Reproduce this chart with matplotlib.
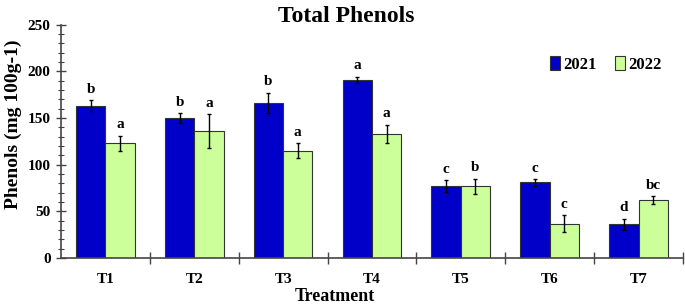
import matplotlib.pyplot as plt
import numpy as np
from matplotlib.ticker import MultipleLocator, FixedLocator

plt.rcParams['font.family'] = ['Liberation Serif', 'DejaVu Serif']
plt.rcParams['font.weight'] = 'bold'

treatments = ['T1', 'T2', 'T3', 'T4', 'T5', 'T6', 'T7']
y2021 = [163, 150, 166, 191, 77, 81, 36]
err2021 = [6, 5, 11, 3, 6.5, 3.5, 6]
y2022 = [123, 136, 115, 133, 77, 37, 62]
err2022 = [8, 18, 8, 10, 8, 9, 4]
let2021 = ['b', 'b', 'b', 'a', 'c', 'c', 'd']
let2022 = ['a', 'a', 'a', 'a', 'b', 'c', 'bc']

blue = '#0000c8'
green = '#ccff99'

fig = plt.figure(figsize=(6.85, 3.08), dpi=100)
ax = fig.add_axes([0.089, 0.162, 0.908, 0.758])

x = np.arange(len(treatments))
w = 0.33
ekw = dict(ecolor='black', elinewidth=1, capsize=1.5, capthick=1)
ax.bar(x - w/2, y2021, w, yerr=err2021, color=blue, edgecolor='#333333',
       linewidth=0.8, error_kw=ekw, label='2021')
ax.bar(x + w/2, y2022, w, yerr=err2022, color=green, edgecolor='#333333',
       linewidth=0.8, error_kw=ekw, label='2022')

for i in range(len(x)):
    ax.text(x[i] - w/2, y2021[i] + err2021[i] + 8, let2021[i], ha='center',
            va='baseline', fontsize=11, fontweight='bold')
    ax.text(x[i] + w/2, y2022[i] + err2022[i] + 8, let2022[i], ha='center',
            va='baseline', fontsize=11, fontweight='bold')

ax.set_xlim(-0.5, 6.5)
ax.set_ylim(0, 250)
ax.spines['top'].set_visible(False)
ax.spines['right'].set_visible(False)
for s in ['left', 'bottom']:
    ax.spines[s].set_color('#444444')
    ax.spines[s].set_linewidth(1.2)

ax.yaxis.set_major_locator(MultipleLocator(50))
ax.yaxis.set_minor_locator(MultipleLocator(10))
ax.tick_params(axis='y', which='major', direction='inout', length=7, width=1,
               labelsize=11, colors='#444444', labelcolor='black', pad=4)
ax.tick_params(axis='y', which='minor', direction='inout', length=4, width=0.8,
               colors='#444444')

ax.xaxis.set_major_locator(FixedLocator(np.arange(0.5, 7, 1)))
ax.xaxis.set_minor_locator(FixedLocator(x))
ax.set_xticklabels([], minor=False)
ax.set_xticklabels(treatments, minor=True)
ax.tick_params(axis='x', which='major', direction='inout', length=8, width=1,
               colors='#444444')
ax.tick_params(axis='x', which='minor', length=0, labelsize=11, pad=11)

ax.legend(loc='upper right', bbox_to_anchor=(0.99, 0.93), ncol=2, frameon=False,
          fontsize=12, handlelength=0.6, handleheight=0.9, handletextpad=0.2,
          columnspacing=1.1)

fig.text(0.505, 0.945, 'Total Phenols', ha='center', va='center', fontsize=17,
         fontweight='bold')
fig.text(0.489, 0.036, 'Treatment', ha='center', va='center', fontsize=13,
         fontweight='bold')
fig.text(0.02, 0.597, 'Phenols (mg 100g-1)', ha='center', va='center',
         rotation=90, fontsize=14, fontweight='bold')

fig.savefig('out.png', dpi=100)
